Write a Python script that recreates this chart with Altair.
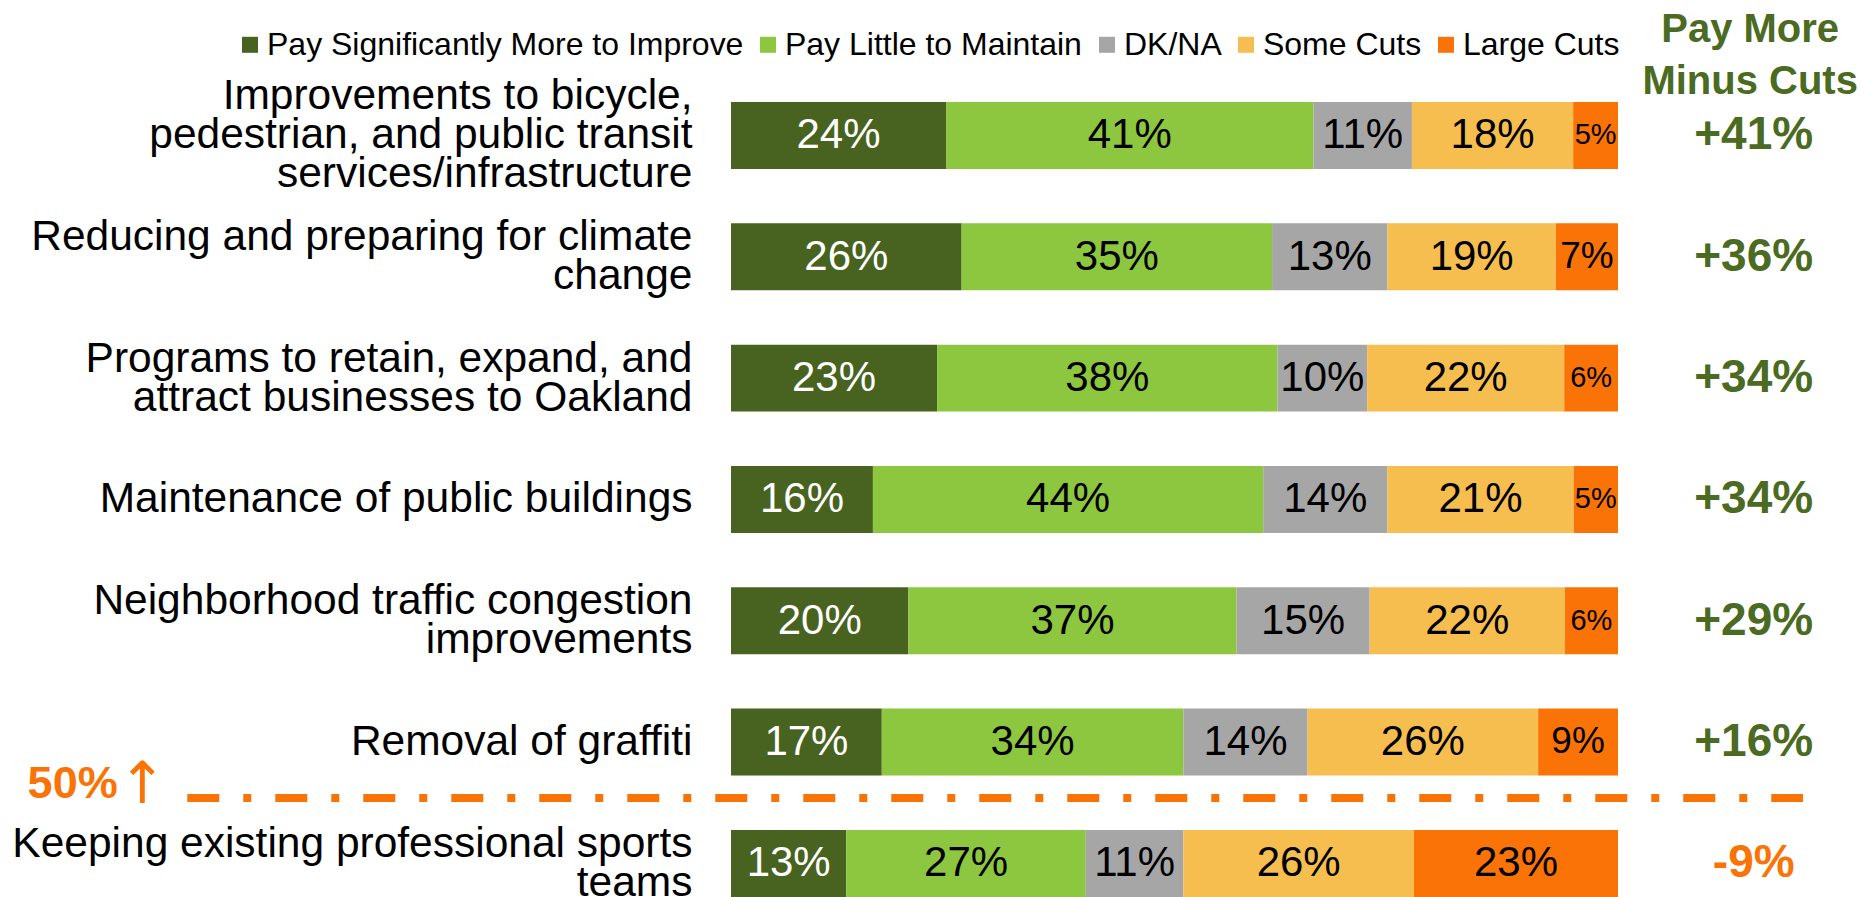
import altair as alt
import pandas as pd

FONT = "Liberation Sans, Arial, Helvetica, sans-serif"

# ---------------- data ----------------
items = [
    "Improvements to bicycle,\npedestrian, and public transit\nservices/infrastructure",
    "Reducing and preparing for climate\nchange",
    "Programs to retain, expand, and\nattract businesses to Oakland",
    "Maintenance of public buildings",
    "Neighborhood traffic congestion\nimprovements",
    "Removal of graffiti",
    "Keeping existing professional sports\nteams",
]
categories = ["Pay Significantly More to Improve", "Pay Little to Maintain",
              "DK/NA", "Some Cuts", "Large Cuts"]
pay_more = [24, 26, 23, 16, 20, 17, 13]
pay_little = [41, 35, 38, 44, 37, 34, 27]
dk_na = [11, 13, 10, 14, 15, 14, 11]
some_cuts = [18, 19, 22, 21, 22, 26, 26]
large_cuts = [5, 7, 6, 5, 6, 9, 23]
net_scores = [41, 36, 34, 34, 29, 16, -9]
header = ["Pay More", "Minus Cuts"]
threshold_label = "50%\u2191"
threshold_item = items[6]

# ---------------- styles ----------------
colors = ["#48631F", "#8DC63F", "#A6A6A6", "#F6BD4F", "#F97306"]
GREEN_TXT = "#4B6A22"
ORANGE = "#F97306"

series = [pay_more, pay_little, dk_na, some_cuts, large_cuts]
rows = []
for ci, (cat, vals) in enumerate(zip(categories, series)):
    for it, v in zip(items, vals):
        rows.append({"item": it, "category": cat, "order": ci, "value": v})
df = pd.DataFrame(rows)

net_df = pd.DataFrame({"item": items, "net": net_scores})
thr_df = pd.DataFrame({"item": [threshold_item], "label": [threshold_label]})
head_df = pd.DataFrame({"item": [items[0]], "text": ["\n".join(header)]})

PLOT_W = 887
NET_X = 1.153
LINE_H = 39
xscale = alt.Scale(domain=[0, 1], range=[0, PLOT_W], nice=False, zero=False)
yscale = alt.Scale(domain=items, paddingInner=0.448, paddingOuter=0.224)

S = "split(datum.label, '\\n')"
# centre multi-line labels on their band: shift up half a line per extra line
label_offset = {
    "condition": [
        {"test": f"length({S}) == 3", "value": -LINE_H},
        {"test": f"length({S}) == 2", "value": -LINE_H / 2},
    ],
    "value": 0,
}
yaxis = alt.Axis(title=None, domain=False, ticks=False, labelPadding=39,
                 labelFontSize=42.5, labelLineHeight=LINE_H,
                 labelOffset=label_offset,
                 labelLimit=1000, labelColor="black", labelFont=FONT,
                 labelAlign="right", labelBaseline="middle",
                 labelExpr=S)
Y = lambda **kw: alt.Y("item:N", scale=yscale, axis=yaxis, **kw)

base = alt.Chart(df).transform_stack(
    stack="value", groupby=["item"], as_=["x0", "x1"], offset="normalize",
    sort=[alt.SortField("order", order="ascending")],
)

bars = base.mark_bar().encode(
    x=alt.X("x0:Q", scale=xscale, axis=None),
    x2="x1:Q",
    y=Y(),
    color=alt.Color(
        "category:N",
        scale=alt.Scale(domain=categories, range=colors),
        legend=alt.Legend(
            orient="none", legendX=-497, legendY=-46, direction="horizontal",
            columns=5, title=None, symbolType="square", symbolSize=256,
            symbolStrokeWidth=0, labelFontSize=32, labelFont=FONT,
            labelColor="black", labelOffset=1, columnPadding=8,
            labelLimit=1000,
        ),
    ),
)

labels = base.transform_calculate(
    mid="(datum.x0 + datum.x1) / 2",
    lab="datum.value + '%'",
    fs="datum.value >= 10 ? 42 : (datum.value >= 7 ? 37 : 29)",
    tc=f"datum.category == '{categories[0]}' ? 'white' : 'black'",
).mark_text(font=FONT, align="center", baseline="middle").encode(
    x=alt.X("mid:Q", scale=xscale, axis=None),
    y=Y(),
    text="lab:N",
    size=alt.Size("fs:Q", scale=None),
    color=alt.Color("tc:N", scale=None),
)

net = alt.Chart(net_df).transform_calculate(
    lab="(datum.net > 0 ? '+' : '') + datum.net + '%'",
    col=f"datum.net >= 0 ? '{GREEN_TXT}' : '{ORANGE}'",
).mark_text(font=FONT, fontSize=46, fontWeight="bold", align="center",
            baseline="middle").encode(
    x=alt.X(datum=NET_X, scale=xscale, axis=None),
    y=Y(),
    text="lab:N",
    color=alt.Color("col:N", scale=None),
)

head = alt.Chart(head_df).mark_text(
    font=FONT, fontSize=40, fontWeight="bold", color=GREEN_TXT,
    align="center", baseline="middle", lineBreak="\n", lineHeight=52,
    yOffset=-72,
).encode(
    x=alt.X(datum=NET_X - 0.004, scale=xscale, axis=None),
    y=Y(bandPosition=0),
    text="text:N",
)

rule = alt.Chart(thr_df).mark_rule(
    color=ORANGE, strokeWidth=8, strokeDash=[32, 24, 8, 24], strokeCap="butt",
    yOffset=-32,
).encode(
    x=alt.X(datum=-0.613, scale=xscale, axis=None),
    x2=alt.X2(datum=1.2086),
    y=Y(bandPosition=0),
)

thr_base = alt.Chart(thr_df).transform_calculate(
    num="substring(datum.label, 0, length(datum.label) - 1)",
    arrow="substring(datum.label, length(datum.label) - 1)",
)
thr_num = thr_base.mark_text(
    font=FONT, fontSize=45, fontWeight="bold", color=ORANGE, align="left",
    baseline="alphabetic", yOffset=-32,
).encode(
    x=alt.X(datum=-0.793, scale=xscale, axis=None),
    y=Y(bandPosition=0),
    text="num:N",
)
thr_arrow = thr_base.mark_text(
    font="DejaVu Sans", fontSize=58, fontWeight="normal", color=ORANGE,
    align="left", baseline="alphabetic", yOffset=-27,
).encode(
    x=alt.X(datum=-0.691, scale=xscale, axis=None),
    y=Y(bandPosition=0),
    text="arrow:N",
)

chart = alt.layer(bars, labels, net, head, rule, thr_num, thr_arrow).properties(
    width=1133,
    height=849.3,
    autosize=alt.AutoSizeParams(type="none"),
    padding={"left": 723, "top": 66.8, "right": 0, "bottom": 0},
).configure_view(stroke=None)

chart.save("out.html", embed_options={"renderer": "svg", "actions": False})
